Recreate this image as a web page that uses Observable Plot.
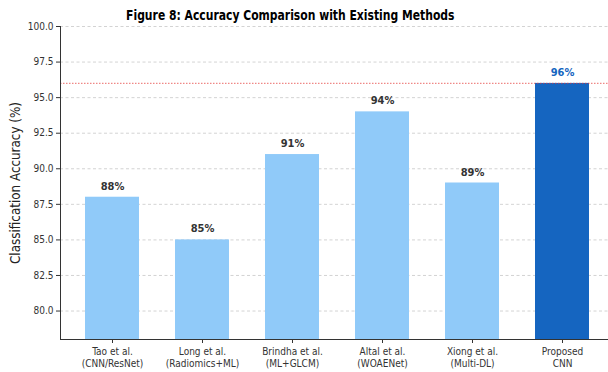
<!DOCTYPE html>
<html><head><meta charset="utf-8">
<script src="https://cdn.jsdelivr.net/npm/d3@7"></script>
<script src="https://cdn.jsdelivr.net/npm/@observablehq/plot@0.6"></script>
<style>
body{margin:0;background:#fff;}
#title{height:20px;box-sizing:border-box;width:608px;text-align:center;padding-right:28px;font-family:"DejaVu Sans",sans-serif;font-weight:bold;font-size:13.5px;line-height:14px;padding-top:8px;white-space:nowrap;color:#000;}
#title span{display:inline-block;transform:scaleX(0.8);}
</style></head><body>
<div id="title"><span>Figure 8: Accuracy Comparison with Existing Methods</span></div>
<div id="chart"></div>
<script>
const methods = ["Tao et al.\n(CNN/ResNet)", "Long et al.\n(Radiomics+ML)", "Brindha et al.\n(ML+GLCM)", "Altal et al.\n(WOAENet)", "Xiong et al.\n(Multi-DL)", "Proposed\nCNN"];
const accuracy = [88, 85, 91, 94, 89, 96];
const barColors = ["#90CAF9", "#90CAF9", "#90CAF9", "#90CAF9", "#90CAF9", "#1565C0"];
const labelColors = ["#333333", "#333333", "#333333", "#333333", "#333333", "#1565C0"];
const yTicks = [80, 82.5, 85, 87.5, 90, 92.5, 95, 97.5, 100];
const yDomain = [78, 100];
const referenceLine = [96];
const yLabel = "Classification Accuracy (%)";

const data = methods.map((m, i) => ({method: m, accuracy: accuracy[i], color: barColors[i], labelColor: labelColors[i]}));

const chart = Plot.plot({
  width: 608, height: 352, marginTop: 6, marginBottom: 33, marginLeft: 60, marginRight: 0,
  style: {fontFamily: '"DejaVu Sans Condensed","DejaVu Sans",sans-serif', fontStretch: "condensed", overflow: "visible", background: "white", color: "#333"},
  x: {type: "band", domain: methods, range: [59.8, 614.2], paddingInner: 0.4, paddingOuter: 0.28, label: null},
  y: {domain: yDomain, label: null},
  color: {type: "identity"},
  marks: [
    Plot.ruleY(yTicks, {stroke: "#c8c8c8", strokeDasharray: "3,2.5", strokeWidth: 0.8}),
    Plot.barY(data, {x: "method", y1: yDomain[0], y2: "accuracy", fill: "color"}),
    Plot.ruleY(referenceLine, {stroke: "#e53935", strokeOpacity: 0.6, strokeDasharray: "1.5,1.5", strokeWidth: 1.2}),
    Plot.text(data, {x: "method", y: "accuracy", text: d => d.accuracy + "%", dy: -11, fontWeight: "bold", fontSize: 11, fill: "labelColor"}),
    Plot.axisY({ticks: yTicks, tickFormat: d => d.toFixed(1), tickSize: 4, tickPadding: 3, fontSize: 10, label: null, color: "#333"}),
    Plot.axisX({tickSize: 4, tickPadding: 3, fontSize: 10, label: null, lineHeight: 1.2, color: "#333"}),
    Plot.ruleY([yDomain[0]], {stroke: "#333"}),
    Plot.frame({anchor: "left", stroke: "#333"}),
    Plot.text([yLabel], {frameAnchor: "left", dx: -45, rotate: -90, textAnchor: "middle", fontSize: 13.3, fontFamily: "DejaVu Sans", fill: "#222"})
  ]
});
document.getElementById("chart").appendChild(chart);
</script>
</body></html>
